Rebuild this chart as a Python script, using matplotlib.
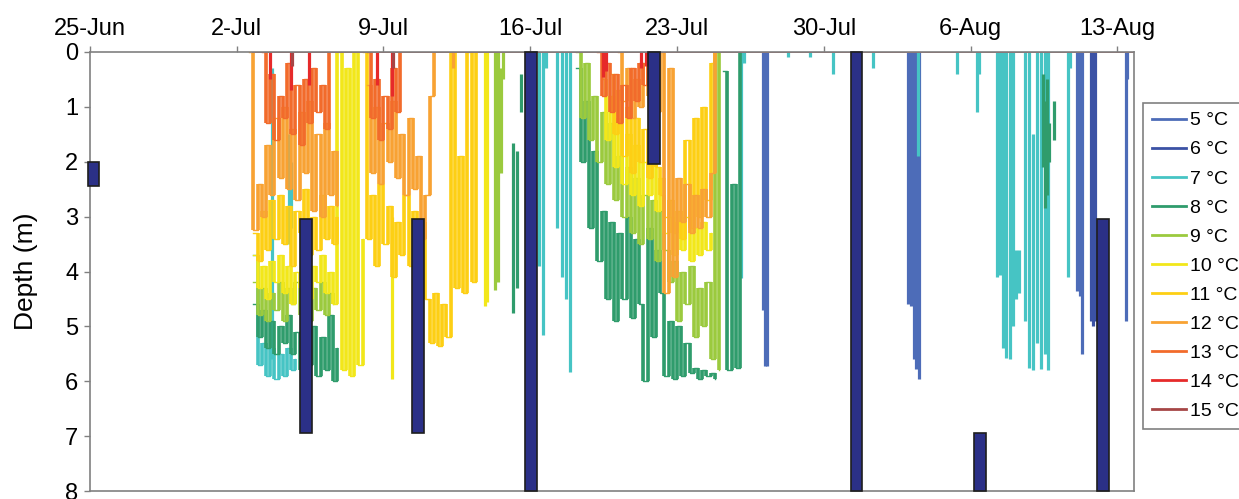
import matplotlib.pyplot as plt
from matplotlib.lines import Line2D
import numpy as np

plt.rcParams['font.family'] = ['Liberation Sans', 'DejaVu Sans']

# isotherm temperatures and their colours
temps = [5, 6, 7, 8, 9, 10, 11, 12, 13, 14, 15]
colors = ['#4d6cb8', '#3b52a5', '#46c4c4', '#2f9c6c', '#9bca3e', '#f2e71a',
          '#fdcf14', '#f8a233', '#f26b2b', '#e62a2a', '#a64646']

# x axis = days since 25-Jun
week_days = [0, 7, 14, 21, 28, 35, 42, 49]
week_labels = ['25-Jun', '2-Jul', '9-Jul', '16-Jul', '23-Jul', '30-Jul', '6-Aug', '13-Aug']

STEP = 0.2  # sampling interval of the dense records (days)

# dense isotherm depth records: temp -> [(start day, depths every STEP days)]
records = {
    7: [(7.8, [3.7, 5.7, 5.3, 5.9, 5.4, 5.95, 5.5, 5.9, 5.4, 5.8, 5.6])],
    8: [(7.8, [4.6, 5.2, 4.7, 5.4, 4.9, 5.5, 5.0, 5.3, 4.8, 5.5, 5.1, 5.8, 4.9, 5.7,
               5.0, 5.9, 5.2, 5.8, 4.8, 6.0, 5.4]),
        (23.2, [0.3, 2.0, 0.9, 3.2, 1.8, 3.8, 2.9, 4.5, 3.1, 4.9, 3.3, 4.5, 3.0, 4.85,
                3.4, 4.6, 6.0, 3.2, 5.2, 3.6, 4.4, 5.9, 4.9, 5.95, 5.0, 5.9, 5.3, 5.85,
                5.75, 5.95, 5.8, 5.9, 5.85, 5.95]),
        (30.2, [0.35, 5.8, 2.4, 5.75, 0])],
    9: [(7.8, [4.2, 4.8, 4.3, 4.9, 4.4, 4.7, 4.2, 4.9, 4.3, 4.6, 4.2, 4.8, 4.4, 4.9,
               4.3, 4.7, 4.2, 4.8, 4.4, 4.6]),
        (23.2, [0, 1.2, 0.2, 1.6, 0.8, 2.0, 1.1, 2.4, 1.3, 2.7, 1.9, 3.0, 2.1, 3.3,
                2.3, 3.5, 2.6, 3.4, 2.7, 3.8, 2.9, 3.6, 4.2, 3.8, 4.9, 4.0, 4.6, 3.9,
                5.2, 4.3, 5.0, 4.2, 5.6, 0, 5.8])],
    10: [(7.8, [3.7, 4.3, 3.9, 4.5, 3.8, 4.2, 3.7, 4.4, 3.9, 4.6, 4.0, 4.3, 3.8, 4.5,
                3.9, 4.2, 3.7, 4.4, 4.0, 4.6, 0, 5.8, 0.3, 5.9, 0, 5.7, 3.4]),
         (24.4, [0.5, 1.6, 0.8, 2.1, 1.2, 2.4, 1.5, 2.6, 1.7, 2.8, 2.0, 2.6, 1.9, 2.9,
                 2.3, 3.3, 3.0, 3.7, 3.1, 3.6, 3.0, 3.8, 3.2, 3.7, 3.1, 3.6, 3.3])],
    11: [(7.8, [3.3, 3.8, 2.9, 3.6, 2.7, 3.4, 2.6, 3.5, 2.8, 3.9, 2.9, 3.3, 2.5, 3.7,
                3.0, 3.6, 2.6, 3.4, 2.8, 3.5, 3.0]),
         (13.0, [0, 3.4, 2.6, 3.9, 2.4, 3.5, 2.8, 4.1, 3.1, 3.7, 2.6, 3.9, 2.9, 3.6,
                 3.1, 4.5, 5.3, 4.4, 5.35, 4.6, 5.2, 0, 4.3, 1.9, 4.4, 0, 4.2, 0]),
         (24.8, [0.4, 1.5, 0.7, 1.9, 1.0, 2.2, 1.2, 2.0, 1.4, 2.3, 1.6, 2.1, 2.6, 3.0,
                 2.7, 3.3, 2.9, 3.4, 1.6, 3.2, 1.2, 3.0, 1.0, 2.7, 0.2, 0])],
    12: [(7.6, [0, 3.25, 2.4, 3.0, 1.7, 2.6, 1.2, 2.3, 1.0, 2.5, 1.4, 2.7, 1.1, 2.2,
                0.9, 2.9, 1.5, 3.0, 1.3, 2.6, 1.8, 2.8]),
         (13.2, [0.6, 2.2, 1.0, 2.4, 1.3, 2.0, 0.9, 2.3, 1.5, 2.6, 1.2, 2.5, 1.9, 3.4,
                 2.6, 0.8, 0]),
         (25.2, [0, 0.9, 0.3, 1.2, 0.5, 1.0, 0.2, 0.8, 0.4, 1.1, 0, 4.4, 0.3, 4.1,
                 2.3, 3.1, 2.4, 3.3, 2.6, 3.2, 2.5, 3.0, 2.2, 0])],
    13: [(8.2, [0, 1.3, 0.4, 1.6, 0.8, 1.2, 0.2, 1.5, 0.6, 1.7, 0.5, 1.3, 0.3, 1.1,
                0.6, 1.4, 0]),
         (13.2, [0, 1.2, 0.5, 1.6, 0.8, 1.4, 0.3, 1.1, 0]),
         (24.2, [0, 0.8, 0.2, 1.1, 0.4, 1.3, 0.6, 1.2, 0.3, 0.9, 0.2, 0.6, 0])],
    15: [(7.8, [0] * 211)],
}

# short excursions: temp -> [(day, top depth, bottom depth)]
spikes = {
    5: [(32.1, 0, 4.7), (32.2, 0, 5.73), (32.3, 0, 5.73), (39.03, 0, 4.6), (39.15, 0, 4.62),
        (39.3, 0, 5.6), (39.4, 0, 5.77), (39.55, 0, 5.95), (47.1, 0, 4.35), (47.2, 0, 4.45),
        (47.3, 0, 5.5), (49.4, 0, 4.9), (49.45, 0, 0.5)],
    6: [(47.75, 0, 4.9), (47.85, 0, 5.0), (47.95, 0, 4.9)],
    7: [(8.7, 0.3, 5.6), (9.5, 1.5, 3.5), (9.6, 2.0, 3.2), (21.4, 0, 3.9), (21.6, 0, 5.15),
        (21.75, 0, 0.3), (22.3, 0, 3.2), (22.5, 0, 4.1), (22.7, 0, 4.5), (22.9, 0, 5.83),
        (31.05, 0, 4.12), (31.2, 0, 0.2), (33.3, 0, 0.1), (34.35, 0, 0.1), (35.45, 0, 0.4),
        (37.35, 0, 0.3), (39.5, 0, 1.9), (41.35, 0, 0.4), (42.3, 0, 1.1), (42.4, 0, 0.4),
        (43.27, 0, 4.1), (43.42, 0, 4.07), (43.56, 0, 5.4), (43.7, 0, 5.57), (43.89, 0, 5.6),
        (44.04, 0, 5.0), (44.18, 3.6, 4.5), (44.32, 3.6, 4.4), (44.61, 0, 4.9), (44.8, 0, 5.75),
        (44.99, 1.5, 5.8), (45.18, 0, 5.3), (45.37, 0, 5.78), (45.56, 0, 5.5), (45.7, 0, 5.8),
        (46.66, 0, 4.1), (46.76, 0, 0.3)],
    8: [(20.2, 1.65, 4.75), (20.35, 1.8, 4.3), (20.55, 0.4, 1.1), (45.45, 0.4, 2.1),
        (45.55, 0.9, 2.85), (45.65, 0.5, 2.6), (45.75, 1.3, 2.0), (46.0, 0.9, 1.6)],
    9: [(19.3, 0, 4.33), (19.45, 0, 4.2), (19.6, 0.3, 2.2), (19.7, 0, 0.5)],
    10: [(14.4, 3.0, 5.95), (18.85, 0, 4.63), (18.95, 0, 4.55)],
    12: [(17.3, 0, 0.3)],
    14: [(8.6, 0, 0.5), (9.6, 0, 0.7), (10.45, 0, 0.6), (13.7, 0, 0.6), (14.4, 0, 0.8),
         (24.45, 0, 0.45), (24.6, 0, 0.35), (26.3, 0, 0.3), (26.5, 0, 0.25)],
    15: [(9.65, 0, 0.25), (14.45, 0, 0.3)],
}

# dark bars (depth ranges)
bar_day = [0.17, 10.3, 15.65, 21.04, 26.9, 36.57, 42.46, 48.33]
bar_top = [2.0, 3.05, 3.05, 0, 0, 0, 6.95, 3.05]
bar_bot = [2.45, 6.95, 6.95, 8, 2.05, 8, 8, 8]

fig = plt.figure(figsize=(12.39, 4.99), dpi=100)
ax = fig.add_axes([0.0726, 0.016, 0.8427, 0.8798])

for temp, col in zip(temps, colors):
    for start, depths in records.get(temp, []):
        t = start + STEP * np.arange(len(depths))
        if temp == 15:
            ax.plot(t, depths, color=col, lw=1.3)
            continue
        # thin step trace + heavier vertical jumps
        ax.plot(t, depths, drawstyle='steps-post', color=col, lw=1.0)
        ax.vlines(t[1:], depths[:-1], depths[1:], color=col, lw=2.6)
    sp = spikes.get(temp, [])
    if sp:
        d, top, bot = zip(*sp)
        ax.vlines(d, top, bot, color=col, lw=2.3)

heights = np.subtract(bar_bot, bar_top)
ax.bar(bar_day, heights, bottom=bar_top, width=0.55, color='#2b3087',
       edgecolor='#1e1e1e', linewidth=1.2, zorder=5, clip_on=False)

ax.set_xlim(0, 49.8)
ax.set_ylim(8, 0)
ax.xaxis.tick_top()
ax.set_xticks(week_days)
ax.set_xticklabels(week_labels)
ax.set_yticks(range(9))
ax.tick_params(axis='both', direction='out', length=4.5, width=1, color='#808080',
               labelsize=17, pad=4)
ax.set_ylabel('Depth (m)', fontsize=19)
ax.yaxis.set_label_coords(-0.05, 0.5)
for s in ax.spines.values():
    s.set_color('#808080')
    s.set_linewidth(1.2)

handles = [Line2D([], [], color=c, lw=2) for c in colors]
leg = fig.legend(handles, [f'{t} °C' for t in temps], loc='upper left',
                 bbox_to_anchor=(0.9225, 0.7936), bbox_transform=fig.transFigure,
                 borderaxespad=0, fontsize=14, labelspacing=0.59, handlelength=1.75,
                 handletextpad=0.2, borderpad=0.45, fancybox=False, framealpha=1)
leg.get_frame().set_edgecolor('#808080')
leg.get_frame().set_linewidth(1.2)

fig.savefig('out.png', dpi=100)
